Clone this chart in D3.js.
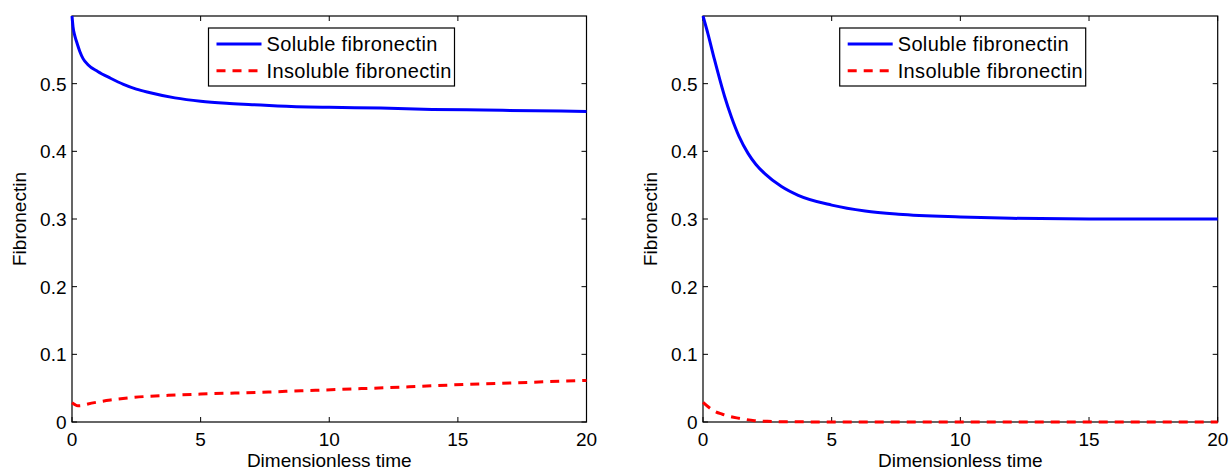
<html>
<head>
  <title> Fibronectin </title>
  <script src="https://d3js.org/d3.v7.min.js"></script>
  <style>
    body{ margin: 0; background: white; }
    text{ font-family: "Liberation Sans", Arial, sans-serif; }
  </style>
</head>
<body>
  <svg id="chart" width="1231" height="468"></svg>
  <script>
    // values
    const timeLeft = [0, 0.04, 0.1, 0.17, 0.3, 0.43, 0.62, 1, 1.5, 2, 2.5, 3, 4, 5, 6, 7, 8, 10, 12, 14, 16, 18, 20];
    const solubleLeft = [0.600, 0.584, 0.572, 0.563, 0.548, 0.537, 0.528, 0.518, 0.508, 0.499, 0.492, 0.487, 0.479, 0.474, 0.471, 0.469, 0.467, 0.465, 0.464, 0.462, 0.461, 0.460, 0.459];
    const insolTimeLeft = [0, 0.1, 0.23, 0.4, 0.62, 1, 1.5, 2.44, 3.74, 5, 6.33, 7.63, 8.9, 9.8, 11.5, 13.1, 15.4, 17.3, 19.6, 20];
    const insolubleLeft = [0.0285, 0.026, 0.024, 0.0245, 0.0266, 0.0295, 0.0325, 0.0365, 0.0394, 0.0413, 0.0428, 0.0443, 0.0462, 0.0473, 0.0497, 0.052, 0.0557, 0.058, 0.061, 0.0615];

    const timeRight = [0, 0.19, 0.45, 0.84, 1.1, 1.4, 1.75, 2.05, 2.4, 3.05, 3.7, 5, 6.3, 7.6, 10, 12, 15, 20];
    const solubleRight = [0.600, 0.574, 0.535, 0.481, 0.451, 0.422, 0.397, 0.381, 0.367, 0.348, 0.335, 0.3205, 0.3117, 0.307, 0.303, 0.301, 0.300, 0.300];
    const insolTimeRight = [0, 0.2, 0.5, 0.75, 1, 1.4, 2, 2.5, 3, 5, 10, 20];
    const insolubleRight = [0.029, 0.0225, 0.015, 0.0115, 0.0085, 0.0055, 0.002, 0.001, 0.0005, 0.0001, 0, 0];

    const xTicks = [0, 5, 10, 15, 20];
    const yTicks = [0, 0.1, 0.2, 0.3, 0.4, 0.5];
    const legendLabels = ["Soluble fibronectin", "Insoluble fibronectin"];

    const svg = d3.select("#chart");
    const fontSize = 19;

    function drawPanel(left, right, tSol, sol, tIns, ins){
        let top = 16, bottom = 422;
        let x = d3.scaleLinear().domain([0, 20]).range([left, right]);
        let y = d3.scaleLinear().domain([0, 0.6]).range([bottom, top]);
        let g = svg.append("g");

        // box
        g.append("rect")
            .attr("x", left).attr("y", top)
            .attr("width", right - left).attr("height", bottom - top)
            .attr("fill", "none").attr("stroke", "black").attr("stroke-width", 1.2);

        // ticks inside on all four sides
        xTicks.forEach(t => {
            g.append("line").attr("x1", x(t)).attr("x2", x(t)).attr("y1", bottom).attr("y2", bottom - 5).attr("stroke", "black");
            g.append("line").attr("x1", x(t)).attr("x2", x(t)).attr("y1", top).attr("y2", top + 5).attr("stroke", "black");
            g.append("text").attr("x", x(t)).attr("y", 446).attr("text-anchor", "middle")
                .attr("font-size", fontSize).text(d3.format("d")(t));
        });
        yTicks.forEach(v => {
            g.append("line").attr("x1", left).attr("x2", left + 5).attr("y1", y(v)).attr("y2", y(v)).attr("stroke", "black");
            g.append("line").attr("x1", right).attr("x2", right - 5).attr("y1", y(v)).attr("y2", y(v)).attr("stroke", "black");
            g.append("text").attr("x", left - 5.5).attr("y", y(v) + 7).attr("text-anchor", "end")
                .attr("font-size", fontSize).text(v === 0 ? "0" : d3.format(".1f")(v));
        });

        // axis titles
        g.append("text").attr("x", (left + right) / 2).attr("y", 466.5).attr("text-anchor", "middle")
            .attr("font-size", fontSize).text("Dimensionless time");
        g.append("text").attr("transform", `translate(${left - 46},${(top + bottom) / 2}) rotate(-90)`)
            .attr("text-anchor", "middle").attr("font-size", fontSize).text("Fibronectin");

        // curves
        let line = d3.line().x(d => x(d[0])).y(d => y(d[1])).curve(d3.curveMonotoneX);
        g.append("path").datum(d3.zip(tSol, sol)).attr("d", line)
            .attr("fill", "none").attr("stroke", "#0000ff").attr("stroke-width", 3);
        g.append("path").datum(d3.zip(tIns, ins)).attr("d", line)
            .attr("fill", "none").attr("stroke", "#ff0000").attr("stroke-width", 3)
            .attr("stroke-dasharray", "9,7");

        // legend
        let lx = right - 132 - 246, ly = 28;
        let leg = g.append("g").attr("transform", `translate(${lx},${ly})`);
        leg.append("rect").attr("width", 246).attr("height", 58)
            .attr("fill", "white").attr("stroke", "black").attr("stroke-width", 1.2);
        legendLabels.forEach((lab, i) => {
            let cy = 16 + i * 26.7;
            leg.append("line").attr("x1", 8).attr("x2", 53).attr("y1", cy).attr("y2", cy)
                .attr("stroke", i === 0 ? "#0000ff" : "#ff0000").attr("stroke-width", 3)
                .attr("stroke-dasharray", i === 0 ? null : "9,7");
            leg.append("text").attr("x", 58).attr("y", cy + 7).attr("font-size", 20)
                .attr("letter-spacing", 0.35).text(lab);
        });
    }

    drawPanel(72, 586.5, timeLeft, solubleLeft, insolTimeLeft, insolubleLeft);
    drawPanel(703, 1217.7, timeRight, solubleRight, insolTimeRight, insolubleRight);
  </script>
</body>
</html>
